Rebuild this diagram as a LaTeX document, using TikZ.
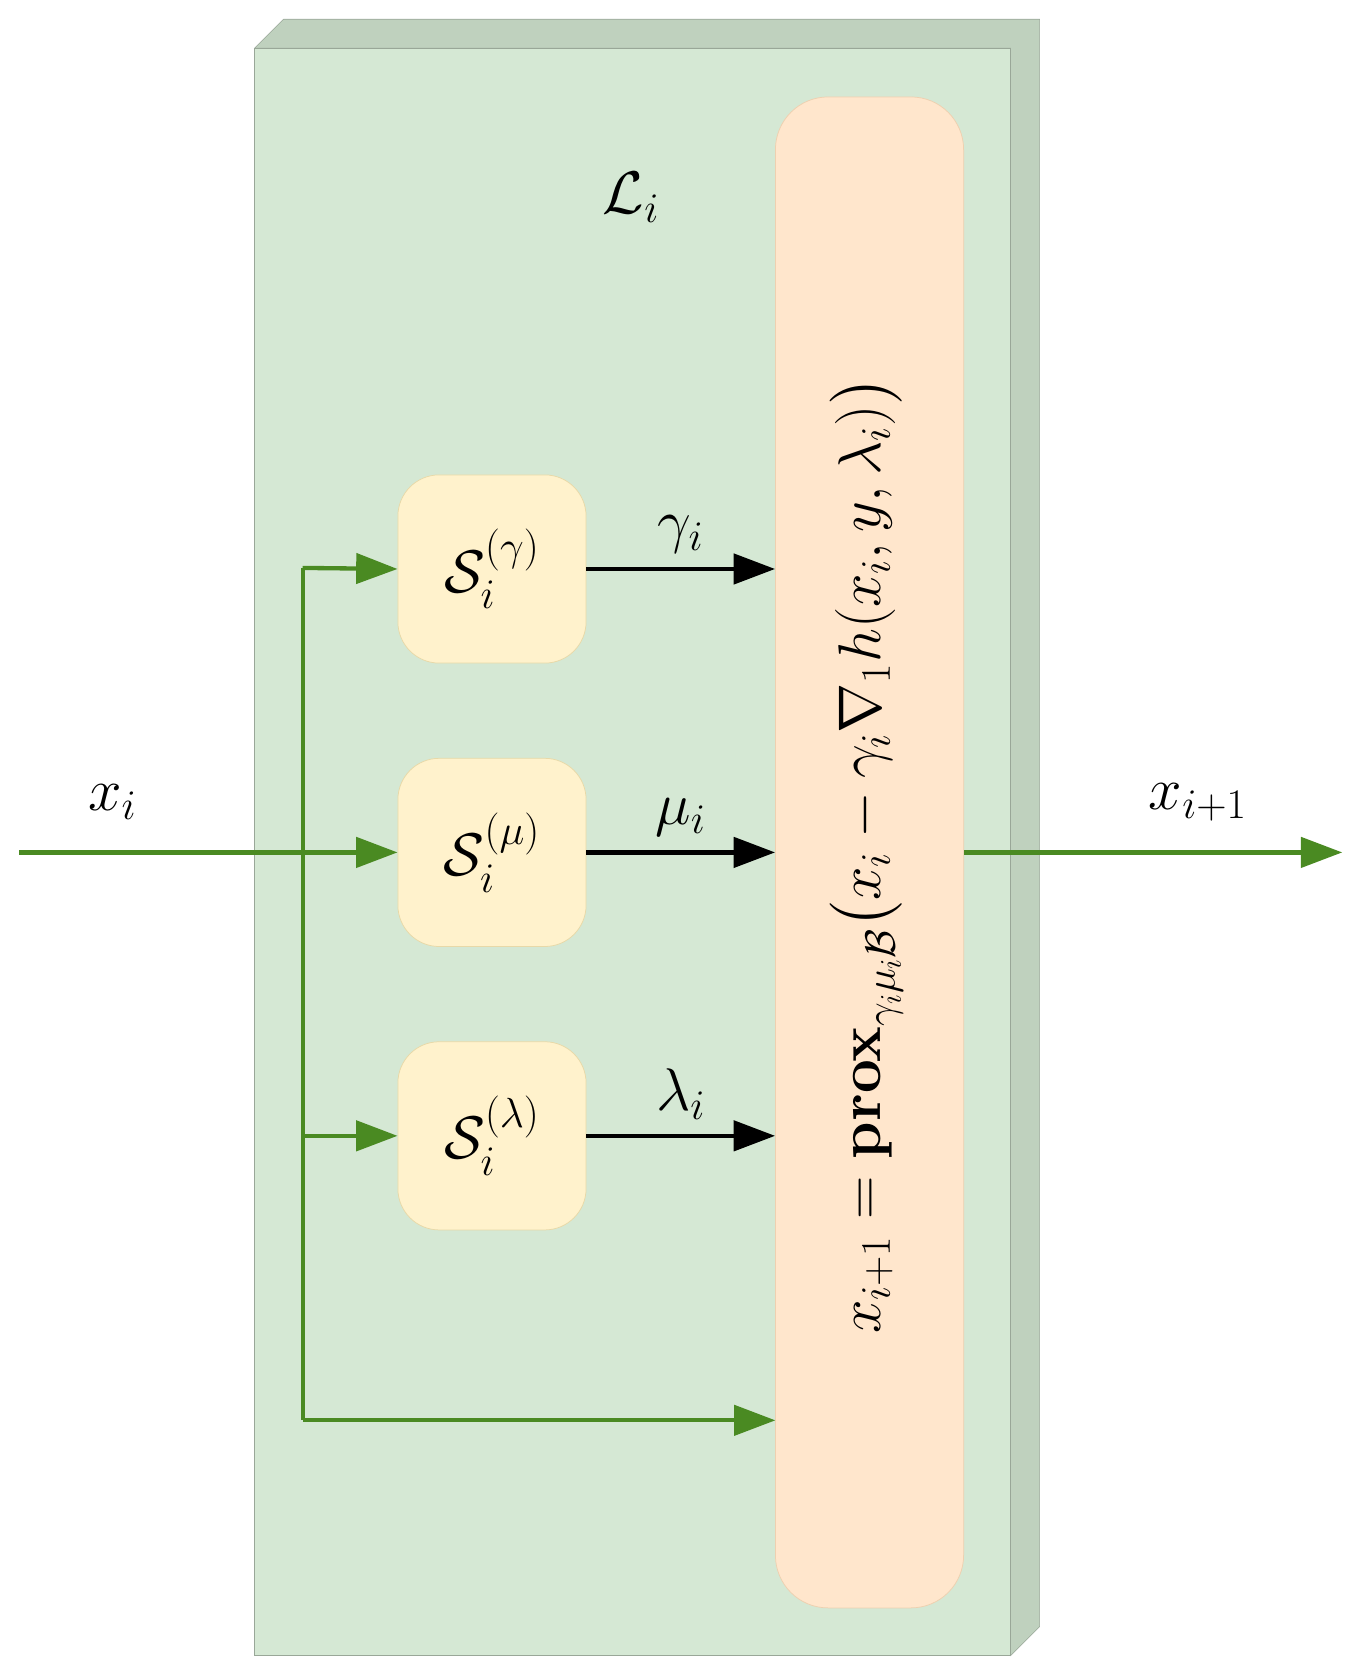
\RequirePackage{fix-cm}
\documentclass[tikz,border=0pt]{standalone}
\usepackage{amsmath,amssymb}
\usetikzlibrary{arrows.meta}
\begin{document}
\begin{tikzpicture}[x=0.02cm,y=-0.02cm,
  gline/.style={draw=gcol,line width=2.3pt},
  garr/.style={gline,-{Triangle[length=22pt,width=16pt]}},
  barr/.style={draw=black,line width=2.3pt,-{Triangle[length=22pt,width=16pt]}},
  sbox/.style={draw=sbord,fill=sfill,rounded corners=22pt,minimum width=3.52cm,minimum height=3.52cm,inner sep=0pt,font=\fontsize{32}{34}\selectfont},
  lbl/.style={font=\fontsize{32}{34}\selectfont}]
\definecolor{gcol}{HTML}{4A8A22}
\definecolor{front}{HTML}{D5E8D4}
\definecolor{side}{HTML}{BFD1BE}
\definecolor{sfill}{HTML}{FFF2CC}
\definecolor{sbord}{HTML}{E8D9A8}
\definecolor{pfill}{HTML}{FFE6CC}
\definecolor{pbord}{HTML}{EED0B0}
\useasboundingbox (0,0) rectangle (1265,1568);
% 3D block
\fill[side,draw=side!80!black,line width=0.3pt] (238,45) -- (265,18) -- (972,18) -- (972,1521) -- (945,1548) -- (945,45) -- cycle;
\fill[front,draw=side!80!black,line width=0.3pt] (238,45) rectangle (945,1548);
\node[lbl] (L) at (590,185) {$\mathcal{L}_i$};
% prox
\node[draw=pbord,fill=pfill,rounded corners=28pt,minimum width=3.52cm,minimum height=28.26cm,inner sep=0pt] (P) at (813,797) {};
\node[rotate=90,font=\fontsize{32}{34}\selectfont] (F) at (810,800) {$x_{i+1}=\mathbf{prox}_{\gamma_i\mu_i\mathcal{B}}\bigl(x_i-\gamma_i\nabla_1 h(x_i,y,\lambda_i)\bigr)$};
% S boxes
\node[sbox] (Sg) at (460,532) {$\mathcal{S}_i^{(\gamma)}$};
\node[sbox] (Sm) at (460,797) {$\mathcal{S}_i^{(\mu)}$};
\node[sbox] (Sl) at (460,1062) {$\mathcal{S}_i^{(\lambda)}$};
% coordinates
\coordinate (in) at (18,797);
\coordinate (b1) at (283,531);
\coordinate (b2) at (283,1062);
\coordinate (b3) at (283,1328);
\coordinate (p3) at (725,1328);
\coordinate (out) at (1255,797);
\draw[garr] (in) -- (Sm.west);
\draw[gline] (b1) -- (b3);
\draw[garr] (b1) -- (Sg.west);
\draw[garr] (b2) -- (Sl.west);
\draw[garr] (b3) -- (p3);
\draw[garr] (P.east |- out) -- (out);
\draw[barr] (Sg.east) -- (P.west |- Sg.east) node[midway,above,lbl,yshift=4pt] {$\gamma_i$};
\draw[barr] (Sm.east) -- (P.west |- Sm.east) node[midway,above,lbl,yshift=4pt] {$\mu_i$};
\draw[barr] (Sl.east) -- (P.west |- Sl.east) node[midway,above,lbl,yshift=4pt] {$\lambda_i$};
\node[lbl] (xi) at (105,750) {$x_i$};
\node[lbl] (xo) at (1120,750) {$x_{i+1}$};
\end{tikzpicture}
\end{document}
